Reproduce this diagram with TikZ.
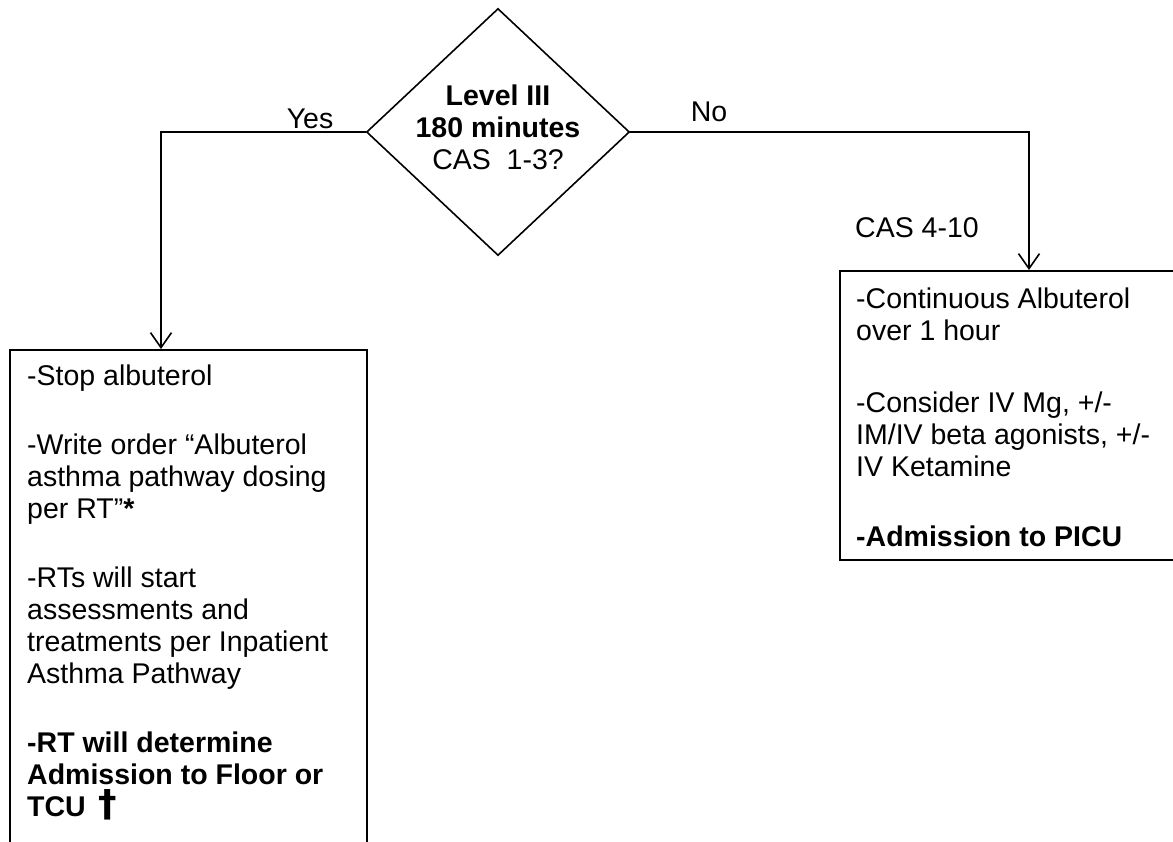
\documentclass[tikz,border=0pt]{standalone}
\usepackage{fontspec}
\setmainfont{Liberation Sans}
\newfontfamily\daggerfont{DejaVu Sans}
\usetikzlibrary{shapes.geometric,arrows.meta}
\tikzset{
  line/.style={line width=1.6pt, draw=black},
  arr/.style={line, -{Straight Barb[length=15pt,width=21pt,line width=1.6pt]}},
  decision/.style={diamond, line, fill=white, inner sep=0pt, minimum width=263pt, minimum height=247pt},
  boxshape/.style={rectangle, line, inner sep=0pt, anchor=north west},
  boxtext/.style={anchor=north west, inner sep=0pt, align=left},
  lab/.style={inner sep=0pt}
}
\begin{document}
\begin{tikzpicture}[x=1pt,y=-1pt,font=\fontsize{28.5}{32}\selectfont]
\useasboundingbox (0,0) rectangle (1173,841);
\clip (0,0) rectangle (1173,841);
\fill[white] (0,0) rectangle (1173,841);

\node[decision] (dec) at (498,132) {};
\node[lab, align=center] (dectext) at (498,127) {\textbf{Level III}\\\textbf{180 minutes}\\CAS\ \ 1-3?};

\node[boxshape, minimum width=357pt, minimum height=560pt] (lbox) at (9,349) {};
\node[boxtext] (ltext) at (27,365) {-Stop albuterol\\[37pt]
-Write order “Albuterol\\asthma pathway dosing\\per RT”\textbf{*}\\[37pt]
-RTs will start\\assessments and\\treatments per Inpatient\\Asthma Pathway\\[37pt]
\textbf{-RT will determine}\\\textbf{Admission to Floor or}\\\textbf{TCU \hspace{5pt}\scalebox{1.3}{\daggerfont\bfseries †}}};

\node[boxshape, minimum width=360pt, minimum height=289pt] (rbox) at (839,270) {};
\node[boxtext] (rtext) at (856,288) {-Continuous Albuterol\\over 1 hour\\[40pt]
-Consider IV Mg, +/-\\IM/IV beta agonists, +/-\\IV Ketamine\\[38pt]
\textbf{-Admission to PICU}};

\coordinate (ltop) at (161,349);
\coordinate (rtop) at (1029,270);

\draw[arr] (dec.west) -| (ltop);
\draw[arr] (dec.east) -| (rtop);

\node[lab] (yes) at (310,119) {Yes};
\node[lab] (no) at (709,112) {No};
\node[lab] (cas) at (917,228) {CAS 4-10};
\end{tikzpicture}
\end{document}
